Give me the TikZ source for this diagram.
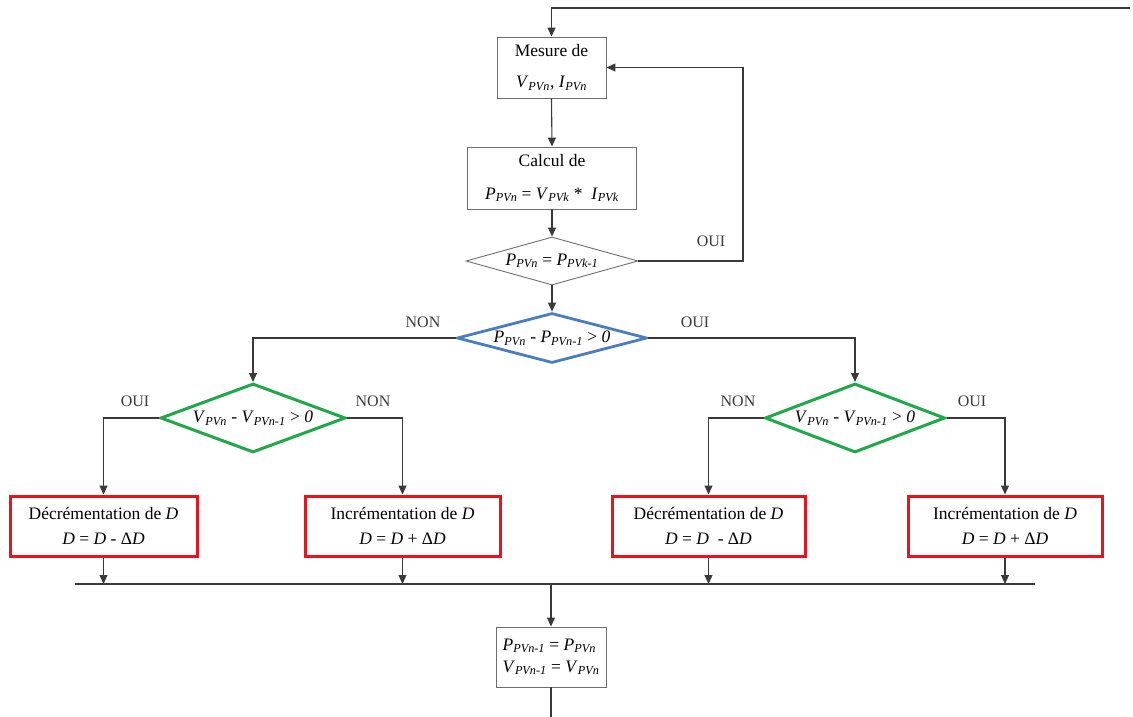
\documentclass[tikz,border=0pt]{standalone}
\usepackage{fontspec}
\setmainfont{Liberation Serif}
\usetikzlibrary{shapes.geometric,arrows.meta}

\definecolor{linegray}{HTML}{3A3A3A}
\definecolor{boxgray}{HTML}{6E6E6E}
\definecolor{incred}{HTML}{E8141C}
\definecolor{testgreen}{HTML}{22A84A}
\definecolor{testblue}{HTML}{4A7EC0}

% italic variable with italic subscript
\newcommand{\pv}[2]{\textit{#1}\textsubscript{\textit{#2}}}

\tikzset{
  conn/.style={draw=linegray, line width=1.1pt},
  arr/.style={conn, -{Triangle[length=9pt,width=8pt]}},
  gbox/.style={draw=boxgray, line width=0.9pt, fill=white, inner sep=0pt, align=center},
  rbox/.style={draw=incred, line width=3pt, fill=white, inner sep=0pt, align=center,
               minimum height=60pt, font=\fontsize{17.5}{25}\selectfont},
  plaindiam/.style={diamond, draw=boxgray, line width=0.9pt, inner sep=0pt},
  bluediam/.style={diamond, draw=testblue, line width=2.8pt, inner sep=0pt},
  greendiam/.style={diamond, draw=testgreen, line width=3pt, inner sep=0pt},
  lbl/.style={font=\fontsize{16}{18}\selectfont, text=linegray}
}

\begin{document}
\begin{tikzpicture}[x=1pt, y=-1pt, font=\fontsize{17.5}{20}\selectfont]
\useasboundingbox (0,0) rectangle (1133,717);

% main column
\node[gbox, minimum width=109pt, minimum height=61pt, font=\fontsize{17.5}{31}\selectfont]
  (mes) at (551.5,67.5) {Mesure de\\ \pv{V}{PVn}, \pv{I}{PVn}};
\node[gbox, minimum width=169pt, minimum height=62pt, font=\fontsize{17.5}{33}\selectfont]
  (calc) at (552,178) {Calcul de\\ \pv{P}{PVn} = \pv{V}{PVk} * \ \pv{I}{PVk}};
\node[plaindiam, minimum width=172pt, minimum height=48pt] (d1) at (552,261) {};
\node at (d1) {\pv{P}{PVn} = \pv{P}{PVk-1}};
\node[bluediam, minimum width=190pt, minimum height=50pt] (d2) at (552,338) {};
\node at (d2) {\pv{P}{PVn} - \pv{P}{PVn-1} > \textit{0}};

% second-level tests
\node[greendiam, minimum width=185pt, minimum height=69pt] (d3) at (253,418) {};
\node at (d3) {\pv{V}{PVn} - \pv{V}{PVn-1} > \textit{0}};
\node[greendiam, minimum width=180pt, minimum height=69pt] (d4) at (855,418) {};
\node at (d4) {\pv{V}{PVn} - \pv{V}{PVn-1} > \textit{0}};

% duty-cycle updates
\node[rbox, minimum width=187pt] (b1) at (103.5,526)
  {Décrémentation de \textit{D}\\ \textit{D} = \textit{D} - Δ\textit{D}};
\node[rbox, minimum width=195pt] (b2) at (402.5,526)
  {Incrémentation de \textit{D}\\ \textit{D} = \textit{D} + Δ\textit{D}};
\node[rbox, minimum width=193pt] (b3) at (708.5,526)
  {Décrémentation de \textit{D}\\ \textit{D} = \textit{D} \ - Δ\textit{D}};
\node[rbox, minimum width=194pt] (b4) at (1005,526)
  {Incrémentation de \textit{D}\\ \textit{D} = \textit{D} + Δ\textit{D}};

% memory update
\node[gbox, minimum width=110pt, minimum height=60pt, align=left, font=\fontsize{17.5}{22}\selectfont]
  (b5) at (551,657) {\pv{P}{PVn-1} = \pv{P}{PVn}\\ \pv{V}{PVn-1} = \pv{V}{PVn}};

% helper points
\coordinate (topin) at (1130,8);
\coordinate (loop) at (743,261);
\coordinate (busL) at (75,584);
\coordinate (busR) at (1035,584);
\coordinate (bot) at (551,717);

% connectors
\draw[arr] (topin) -| (mes.north);
\draw[arr] (mes.south) -- (calc.north);
\draw[arr] (calc.south) -- (d1.north);
\draw[arr] (d1.east) -- (loop) |- (mes.east);
\draw[arr] (d1.south) -- (d2.north);
\draw[arr] (d2.west) -| (d3.north);
\draw[arr] (d2.east) -| (d4.north);
\draw[arr] (d3.west) -| (b1.north);
\draw[arr] (d3.east) -| (b2.north);
\draw[arr] (d4.west) -| (b3.north);
\draw[arr] (d4.east) -| (b4.north);
\draw[conn] (busL) -- (busR);
\foreach \b in {b1,b2,b3,b4} \draw[arr] (\b.south) -- (\b.south |- busL);
\draw[arr] (b5.north |- busL) -- (b5.north);
\draw[conn] (b5.south) -- (bot);

% branch labels
\node[lbl] at (711,241) {OUI};
\node[lbl] at (423,322) {NON};
\node[lbl] at (695,322) {OUI};
\node[lbl] at (135,401) {OUI};
\node[lbl] at (373,401) {NON};
\node[lbl] at (738,401) {NON};
\node[lbl] at (972,401) {OUI};
\end{tikzpicture}
\end{document}
